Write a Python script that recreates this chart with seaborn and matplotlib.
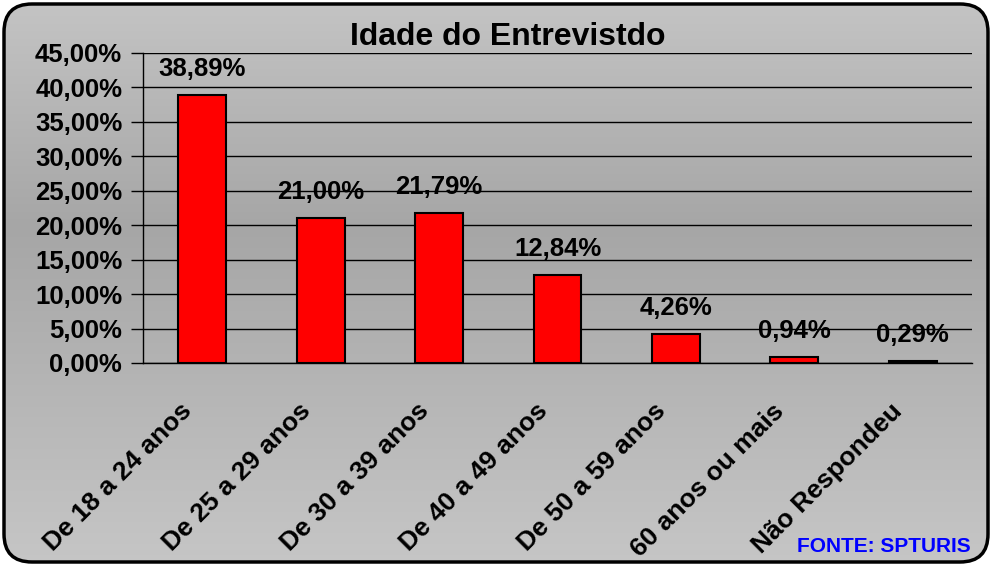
import numpy as np
import seaborn as sns
import matplotlib.pyplot as plt
import matplotlib.transforms as mtransforms
from matplotlib.colors import LinearSegmentedColormap
from matplotlib.patches import FancyBboxPatch

# Data
categorias = ['De 18 a 24 anos', 'De 25 a 29 anos', 'De 30 a 39 anos', 'De 40 a 49 anos',
              'De 50 a 59 anos', '60 anos ou mais', 'Não Respondeu']
percentuais = [38.89, 21.00, 21.79, 12.84, 4.26, 0.94, 0.29]
y_ticks = [0, 5, 10, 15, 20, 25, 30, 35, 40, 45]

sns.set_style('white')
plt.rcParams['font.family'] = ['Liberation Sans', 'DejaVu Sans']
plt.rcParams['font.weight'] = 'bold'
plt.rcParams['text.color'] = 'black'
plt.rcParams['xtick.color'] = 'black'
plt.rcParams['ytick.color'] = 'black'
plt.rcParams['xtick.labelcolor'] = 'black'
plt.rcParams['ytick.labelcolor'] = 'black'

W, H = 992, 566
fig = plt.figure(figsize=(W / 100, H / 100), dpi=100)
fig.patch.set_alpha(0)

# Background with gray gradient and rounded border
bg = fig.add_axes([0, 0, 1, 1], zorder=-1)
bg.set_xlim(0, W)
bg.set_ylim(0, H)
bg.axis('off')
cmap = LinearSegmentedColormap.from_list('cinza', [(0, '#c6c6c6'), (0.6, '#a6a6a6'), (1, '#c4c4c4')])
grad = np.linspace(0, 1, 256).reshape(-1, 1)
img = bg.imshow(grad, cmap=cmap, aspect='auto', extent=[0, W, H, 0], origin='upper')
borda = FancyBboxPatch((4, 4), W - 8, H - 8, boxstyle='round,pad=0,rounding_size=28',
                       facecolor='none', edgecolor='black', linewidth=2.5)
bg.add_patch(borda)
img.set_clip_path(borda)

ax = fig.add_axes([143 / W, 1 - 363 / H, (972 - 143) / W, (363 - 53) / H])
ax.set_facecolor('none')

sns.barplot(x=categorias, y=percentuais, color='#ff0000', edgecolor='black',
            linewidth=1.5, width=0.405, saturation=1, ax=ax, zorder=3)

ax.set_ylim(0, 45)
ax.set_xlim(-0.5, len(categorias) - 0.5)
ax.set_yticks(y_ticks)
ax.set_yticklabels([f'{v:.2f}%'.replace('.', ',') for v in y_ticks], fontsize=18.5, fontweight='bold')
ax.yaxis.grid(True, color='black', linewidth=1)
ax.set_axisbelow(True)

ax.set_xticks(np.arange(len(categorias)))
ax.set_xticklabels(categorias, rotation=45, ha='right', va='center', rotation_mode='anchor',
                   fontsize=19, fontweight='bold')
ax.set_xticks(np.arange(len(categorias) + 1) - 0.5, minor=True)
ax.tick_params(axis='x', which='major', length=0, pad=32)
ax.tick_params(axis='x', which='minor', length=7, width=1, color='black', direction='out')
ax.tick_params(axis='y', length=9, width=1, color='black', direction='out', pad=6, left=True)
desloc = mtransforms.ScaledTranslation(-0.14, 0, fig.dpi_scale_trans)
for lbl in ax.get_xticklabels():
    lbl.set_transform(lbl.get_transform() + desloc)

for s in ['top', 'right']:
    ax.spines[s].set_visible(False)
for s in ['left', 'bottom']:
    ax.spines[s].set_color('black')
    ax.spines[s].set_linewidth(1)

ax.bar_label(ax.containers[0], labels=[f'{v:.2f}%'.replace('.', ',') for v in percentuais],
             padding=10, fontsize=18.5, fontweight='bold', color='black')
ax.set_xlabel('')
ax.set_ylabel('')

fig.text(508 / W, 1 - 45 / H, 'Idade do Entrevistdo', ha='center', va='baseline',
         fontsize=23, fontweight='bold', color='black')
fig.text(971 / W, 1 - 552 / H, 'FONTE: SPTURIS', ha='right', va='baseline',
         fontsize=15, fontweight='bold', color='#0000ff')

fig.savefig('out.png', dpi=100, transparent=False)
